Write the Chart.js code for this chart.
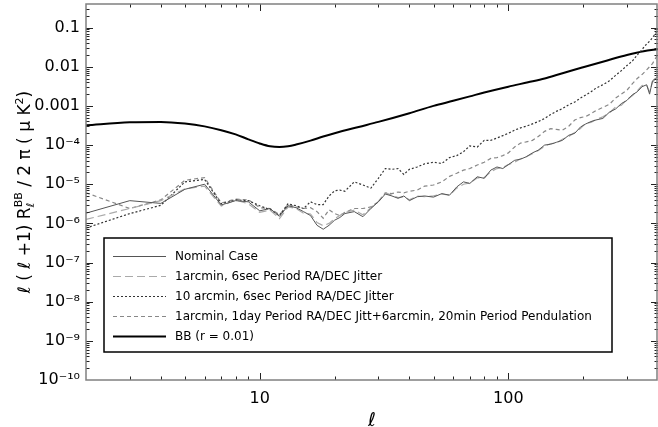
<!DOCTYPE html>
<html>
<head>
<meta charset="utf-8">
<script src="https://cdn.jsdelivr.net/npm/chart.js@4/dist/chart.umd.min.js"></script>
<style>
  body { margin: 0; background: #fff; }
  canvas { display: block; }
</style>
</head>
<body>
<canvas id="spectrum" width="658" height="427"></canvas>
<script>
// multipole grid shared by the four simulated spectra
var ell = [2,3,4,5,6,7,8,9,10,11,12,13,14,15,16,17,18,19,20,21,22,24,26,28,30,32,34,36,38,40,
  43,46,50,54,58,62,66,70,75,80,85,90,95,100,106,112,118,125,132,140,148,156,165,175,185,195,
  205,215,225,240,255,270,285,300,315,330,345,360,370,380,390,400];

// log10 of l(l+1)R/2pi
var nominalLog = [-5.74,-5.42,-5.49,-5.13,-5.00,-5.53,-5.42,-5.45,-5.68,-5.62,
  -5.82,-5.55,-5.60,-5.70,-5.80,-6.05,-6.15,-6.05,-5.92,-5.85,
  -5.75,-5.70,-5.83,-5.62,-5.45,-5.25,-5.30,-5.36,-5.30,-5.42,
  -5.32,-5.30,-5.33,-5.24,-5.28,-5.07,-4.94,-4.98,-4.81,-4.85,
  -4.64,-4.56,-4.60,-4.50,-4.39,-4.36,-4.30,-4.20,-4.13,-4.00,
  -3.98,-3.93,-3.88,-3.75,-3.70,-3.54,-3.46,-3.40,-3.36,-3.32,
  -3.16,-3.08,-2.94,-2.86,-2.72,-2.64,-2.51,-2.46,-2.70,-2.36,
  -2.30,-2.26];
var jitter6sLog = [-5.90,-5.62,-5.42,-5.12,-5.05,-5.56,-5.40,-5.50,-5.72,-5.66,
  -5.88,-5.58,-5.62,-5.74,-5.76,-5.98,-6.06,-6.00,-5.88,-5.80,
  -5.72,-5.66,-5.78,-5.60,-5.44,-5.22,-5.28,-5.34,-5.32,-5.40,
  -5.30,-5.32,-5.30,-5.25,-5.28,-5.10,-5.00,-4.97,-4.84,-4.83,
  -4.68,-4.60,-4.57,-4.50,-4.44,-4.35,-4.30,-4.22,-4.14,-4.03,
  -3.96,-3.95,-3.85,-3.78,-3.68,-3.58,-3.44,-3.42,-3.35,-3.28,
  -3.18,-3.03,-2.98,-2.84,-2.74,-2.62,-2.48,-2.47,-2.64,-2.40,
  -2.32,-2.22];
var jitter10Log = [-6.12,-5.75,-5.54,-4.94,-4.88,-5.50,-5.40,-5.42,-5.55,-5.65,
  -5.80,-5.50,-5.55,-5.62,-5.45,-5.52,-5.52,-5.30,-5.17,-5.15,
  -5.18,-4.94,-5.02,-5.10,-4.85,-4.60,-4.62,-4.60,-4.75,-4.62,
  -4.56,-4.48,-4.44,-4.47,-4.32,-4.27,-4.17,-4.02,-4.05,-3.88,
  -3.88,-3.82,-3.76,-3.70,-3.62,-3.56,-3.52,-3.46,-3.40,-3.32,
  -3.22,-3.14,-3.07,-2.97,-2.90,-2.80,-2.72,-2.64,-2.55,-2.46,
  -2.36,-2.22,-2.10,-1.97,-1.86,-1.70,-1.56,-1.42,-1.35,-1.26,
  -1.16,-1.07];
var pendLog = [-5.22,-5.62,-5.40,-4.90,-4.83,-5.48,-5.38,-5.40,-5.60,-5.62,
  -5.78,-5.52,-5.58,-5.62,-5.60,-5.70,-5.87,-5.65,-5.75,-5.80,
  -5.72,-5.62,-5.62,-5.58,-5.45,-5.22,-5.24,-5.20,-5.22,-5.18,
  -5.15,-5.05,-5.02,-4.94,-4.80,-4.72,-4.64,-4.60,-4.51,-4.44,
  -4.34,-4.32,-4.27,-4.20,-4.05,-3.95,-3.92,-3.88,-3.78,-3.65,
  -3.58,-3.60,-3.62,-3.52,-3.36,-3.30,-3.27,-3.20,-3.12,-3.04,
  -2.96,-2.80,-2.70,-2.60,-2.44,-2.30,-2.20,-2.08,-2.00,-1.92,
  -1.80,-1.66];

// theory BB curve, r = 0.01
var bbEll = [2,3,4,5,6,7,8,9,10,11,12,13,14,16,18,20,25,30,40,50,60,70,80,100,120,140,160,180,200,250,300,350,400];
var bbVal = [3.2e-4,3.8e-4,3.9e-4,3.55e-4,3.0e-4,2.4e-4,1.87e-4,1.4e-4,1.1e-4,9.3e-5,8.9e-5,9.3e-5,1.03e-4,
  1.3e-4,1.65e-4,2.0e-4,2.9e-4,3.9e-4,6.5e-4,1.0e-3,1.35e-3,1.75e-3,2.2e-3,3.1e-3,4.0e-3,5.0e-3,6.4e-3,
  8.0e-3,9.7e-3,1.45e-2,2.0e-2,2.5e-2,2.8e-2];

var seriesLabels = ["Nominal Case",
  "1arcmin, 6sec Period RA/DEC Jitter",
  "10 arcmin, 6sec Period RA/DEC Jitter",
  "1arcmin, 1day Period RA/DEC Jitt+6arcmin, 20min Period Pendulation",
  "BB (r = 0.01)"];

var xTickVals = [10, 100];
var yTickVals = [1e-10,1e-9,1e-8,1e-7,1e-6,1e-5,1e-4,1e-3,1e-2,1e-1];
var yTickLabels = ["10\u207B\u00B9\u2070","10\u207B\u2079","10\u207B\u2078","10\u207B\u2077","10\u207B\u2076",
  "10\u207B\u2075","10\u207B\u2074","0.001","0.01","0.1"];

function pts(xs, logs) {
  return xs.map(function(l, i) { return {x: l, y: Math.pow(10, logs[i])}; });
}

var FONT = "'DejaVu Sans', sans-serif";

var decor = {
  id: "decor",
  afterDatasetsDraw: function(chart) {
    var ctx = chart.ctx, a = chart.chartArea;
    var xs = chart.scales.x, ys = chart.scales.y;
    ctx.save();
    ctx.strokeStyle = "#222";
    ctx.lineWidth = 1;
    // inward ticks on all four sides
    for (var e = 0; e <= 2; e++) {
      for (var m = 1; m <= 9; m++) {
        var v = m * Math.pow(10, e);
        if (v <= xs.min || v >= xs.max) continue;
        var px = Math.round(xs.getPixelForValue(v)) + 0.5;
        var len = m === 1 ? 7 : 3.5;
        ctx.beginPath();
        ctx.moveTo(px, a.bottom); ctx.lineTo(px, a.bottom - len);
        ctx.moveTo(px, a.top); ctx.lineTo(px, a.top + len);
        ctx.stroke();
      }
    }
    for (var e2 = -10; e2 <= 0; e2++) {
      for (var m2 = 1; m2 <= 9; m2++) {
        var v2 = m2 * Math.pow(10, e2);
        if (v2 <= ys.min * 1.0001 || v2 >= ys.max) continue;
        var py = Math.round(ys.getPixelForValue(v2)) + 0.5;
        var len2 = m2 === 1 ? 7 : 3.5;
        ctx.beginPath();
        ctx.moveTo(a.left, py); ctx.lineTo(a.left + len2, py);
        ctx.moveTo(a.right, py); ctx.lineTo(a.right - len2, py);
        ctx.stroke();
      }
    }
    // frame
    ctx.strokeStyle = "#808080";
    ctx.lineWidth = 1.5;
    ctx.strokeRect(a.left, a.top, a.right - a.left - 1, a.bottom - a.top);

    // legend box
    var bx = 104, by = 238, bw = 508, bh = 114;
    ctx.fillStyle = "#fff";
    ctx.fillRect(bx, by, bw, bh);
    ctx.strokeStyle = "#000";
    ctx.lineWidth = 1.5;
    ctx.strokeRect(bx, by, bw, bh);
    ctx.font = "12px " + FONT;
    ctx.textBaseline = "middle";
    chart.data.datasets.forEach(function(ds, i) {
      var y = 256.5 + i * 20;
      ctx.beginPath();
      ctx.strokeStyle = ds.borderColor;
      ctx.lineWidth = ds.borderWidth;
      ctx.setLineDash(ds.borderDash || []);
      ctx.moveTo(113, y); ctx.lineTo(166, y);
      ctx.stroke();
      ctx.setLineDash([]);
      ctx.fillStyle = "#000";
      ctx.fillText(ds.label, 175, y);
    });
    ctx.restore();
  },
  afterDraw: function(chart) {
    // y-axis title with sub/superscripts
    var ctx = chart.ctx;
    var parts = [
      {t: "\u2113 ( \u2113 +1) R", s: 17, dy: 0},
      {t: "\u2113", s: 11, dy: 4, stackWith: "BB"},
      {t: " / 2 \u03C0 ( \u03BC K", s: 17, dy: 0},
      {t: "2", s: 11, dy: -7},
      {t: ")", s: 17, dy: 0}
    ];
    ctx.save();
    var total = 0;
    parts.forEach(function(p) {
      ctx.font = p.s + "px " + FONT;
      var w = ctx.measureText(p.t).width;
      if (p.stackWith) w = Math.max(w, ctx.measureText(p.stackWith).width);
      p.w = w; total += w;
    });
    ctx.translate(30, 192);
    ctx.rotate(-Math.PI / 2);
    ctx.fillStyle = "#000";
    ctx.textBaseline = "alphabetic";
    var x = -total / 2;
    parts.forEach(function(p) {
      ctx.font = p.s + "px " + FONT;
      ctx.fillText(p.t, x, p.dy);
      if (p.stackWith) ctx.fillText(p.stackWith, x, -8);
      x += p.w;
    });
    ctx.restore();
  }
};

new Chart(document.getElementById("spectrum"), {
  type: "line",
  data: {
    datasets: [
      {label: seriesLabels[0], data: pts(ell, nominalLog), borderColor: "#555", borderWidth: 1, borderDash: []},
      {label: seriesLabels[1], data: pts(ell, jitter6sLog), borderColor: "#aaa", borderWidth: 1.2, borderDash: [8, 4]},
      {label: seriesLabels[2], data: pts(ell, jitter10Log), borderColor: "#333", borderWidth: 1.2, borderDash: [2, 2]},
      {label: seriesLabels[3], data: pts(ell, pendLog), borderColor: "#888", borderWidth: 1.2, borderDash: [4, 3]},
      {label: seriesLabels[4], data: bbEll.map(function(l, i) { return {x: l, y: bbVal[i]}; }),
        borderColor: "#000", borderWidth: 2, borderDash: [], cubicInterpolationMode: "monotone"}
    ]
  },
  options: {
    responsive: false,
    animation: false,
    layout: {padding: {top: 4, right: 0, left: 0, bottom: 0}},
    elements: {point: {radius: 0}, line: {tension: 0, fill: false}},
    plugins: {legend: {display: false}, tooltip: {enabled: false}},
    scales: {
      x: {
        type: "logarithmic", min: 2, max: 400,
        grid: {display: false, drawTicks: false},
        border: {display: false},
        afterBuildTicks: function(s) { s.ticks = xTickVals.map(function(v) { return {value: v}; }); },
        afterFit: function(s) { s.height = 47; s.paddingLeft = 0; s.paddingRight = 0; },
        ticks: {padding: 9, color: "#000", font: {family: FONT, size: 16}, maxRotation: 0,
          callback: function(v) { return xTickVals.indexOf(v) >= 0 ? String(v) : ""; }},
        title: {display: true, text: "\u2113", color: "#000", font: {family: FONT, size: 19}, padding: {top: 0, bottom: -5}}
      },
      y: {
        type: "logarithmic", min: 1e-10, max: 0.4,
        grid: {display: false, drawTicks: false},
        border: {display: false},
        afterBuildTicks: function(s) { s.ticks = yTickVals.map(function(v) { return {value: v}; }); },
        afterFit: function(s) { s.width = 86; s.paddingTop = 0; s.paddingBottom = 0; },
        ticks: {padding: 6, color: "#000", font: {family: FONT, size: 16},
          callback: function(v) {
            for (var i = 0; i < yTickVals.length; i++) {
              if (Math.abs(Math.log10(yTickVals[i]) - Math.log10(v)) < 1e-6) return yTickLabels[i];
            }
            return "";
          }}
      }
    }
  },
  plugins: [decor]
});
</script>
</body>
</html>
